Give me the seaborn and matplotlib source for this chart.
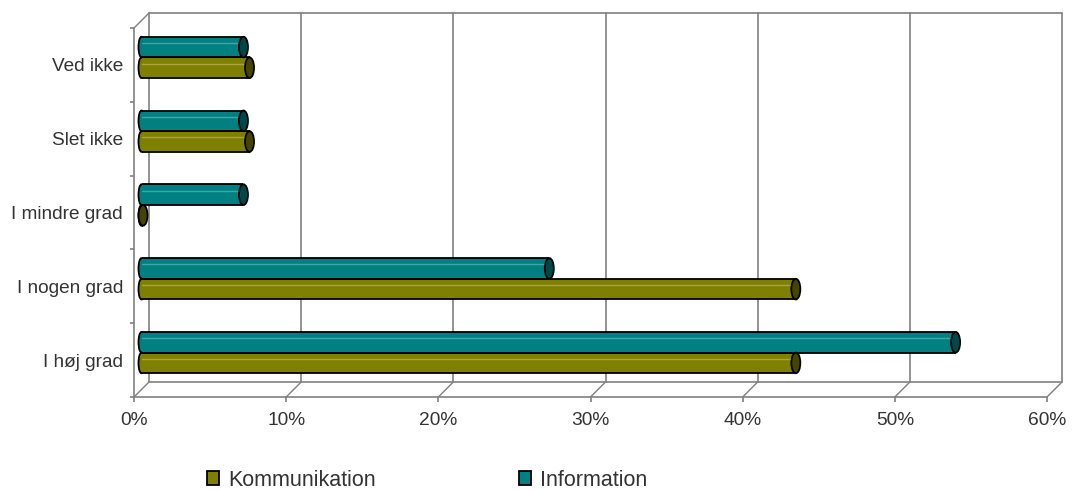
import numpy as np
import pandas as pd
import matplotlib
matplotlib.use("Agg")
import matplotlib.pyplot as plt
import matplotlib.transforms as mtransforms
from matplotlib.patches import Ellipse, Patch
import seaborn as sns

categories = ["Ved ikke", "Slet ikke", "I mindre grad", "I nogen grad", "I høj grad"]
kommunikation = [7.1, 7.1, 0.1, 43.0, 43.0]
information = [6.7, 6.7, 6.7, 26.8, 53.5]
series_names = ["Kommunikation", "Information"]
x_ticks = [0, 10, 20, 30, 40, 50, 60]
x_tick_labels = ["0%", "10%", "20%", "30%", "40%", "50%", "60%"]

colors = {"Kommunikation": "#808000", "Information": "#008080"}
caps = {"Kommunikation": "#454500", "Information": "#004848"}
highlight = {"Kommunikation": "#a5a545", "Information": "#45a5a5"}

df = pd.DataFrame({
    "Kategori": categories * 2,
    "Serie": ["Kommunikation"] * len(categories) + ["Information"] * len(categories),
    "Værdi": kommunikation + information,
})

sns.set_theme(style="white")
plt.rcParams["font.family"] = ["Liberation Sans", "DejaVu Sans"]

W, H, DPI = 1072, 490, 100
fig = plt.figure(figsize=(W / DPI, H / DPI), dpi=DPI)
# front plane of the pseudo-3D box
left, right, top, bottom = 134, 1047, 28, 397
ax = fig.add_axes([left / W, 1 - bottom / H, (right - left) / W, (bottom - top) / H])

hue_order = ["Information", "Kommunikation"]
sns.barplot(data=df, y="Kategori", x="Værdi", hue="Serie", order=categories,
            hue_order=hue_order, palette=colors, orient="h", width=0.56,
            saturation=1, linewidth=0, ax=ax, legend=False, zorder=3)

ax.set_xlim(0, 60)
ax.set_ylim(len(categories) - 0.5, -0.5)

depth = 15  # px
off_back = mtransforms.ScaledTranslation(depth / DPI, depth / DPI, fig.dpi_scale_trans)
off_mid = mtransforms.ScaledTranslation(depth / 2 / DPI, depth / 2 / DPI, fig.dpi_scale_trans)
grey = "#808080"

# back wall gridlines, frame, floor
tb = ax.transData + off_back
y0, y1 = len(categories) - 0.5, -0.5
for v in x_ticks:
    ax.plot([v, v], [y0, y1], color=grey, lw=1.2, transform=tb, clip_on=False, zorder=1)
ax.plot([0, 60], [y1, y1], color=grey, lw=1.2, transform=tb, clip_on=False, zorder=1)
ax.plot([0, 60], [y0, y0], color=grey, lw=1.2, transform=tb, clip_on=False, zorder=1)
px_x = 60 / (right - left)
px_y = len(categories) / (bottom - top)
for v in x_ticks:
    ax.plot([v, v + depth * px_x], [y0, y0 - depth * px_y], color=grey, lw=1,
            clip_on=False, zorder=1)
ax.plot([0, depth * px_x], [y1, y1 - depth * px_y], color=grey, lw=1, clip_on=False, zorder=1)

# shift bars to mid depth and build cylinder look
tm = ax.transData + off_mid
bars = list(ax.patches)
cap_w = 9 * px_x
left_w = 6 * px_x
k_rgb = matplotlib.colors.to_rgb(colors["Kommunikation"])
for p in bars:
    p.set_transform(tm)
    name = "Kommunikation" if np.allclose(p.get_facecolor()[:3], k_rgb, atol=0.02) else "Information"
    x0 = p.get_x()
    x_end = x0 + p.get_width()
    yb, hgt = p.get_y(), p.get_height()
    yc = yb + hgt / 2
    # rounded left end (half hidden behind the bar body)
    ax.add_patch(Ellipse((x0, yc), left_w, hgt, facecolor=colors[name],
                         edgecolor="black", lw=1.3, transform=tm, zorder=2.9, clip_on=False))
    # outline of body
    ax.plot([x0, x_end], [yb, yb], color="black", lw=1.3, transform=tm, zorder=3.3,
            clip_on=False, solid_capstyle="butt")
    ax.plot([x0, x_end], [yb + hgt, yb + hgt], color="black", lw=1.3, transform=tm,
            zorder=3.3, clip_on=False, solid_capstyle="butt")
    if p.get_width() > 0.8:
        ax.plot([x0, x_end], [yc - hgt * 0.2, yc - hgt * 0.2], color=highlight[name],
                lw=1, transform=tm, zorder=3.2, clip_on=False)
    ax.add_patch(Ellipse((x_end, yc), cap_w, hgt, facecolor=caps[name],
                         edgecolor="black", lw=1.3, transform=tm, zorder=4, clip_on=False))

# axes styling
for s in ["top", "right"]:
    ax.spines[s].set_visible(False)
for s in ["left", "bottom"]:
    ax.spines[s].set_color(grey)
    ax.spines[s].set_linewidth(1.2)
    ax.spines[s].set_zorder(1)
ax.set_xticks(x_ticks)
ax.set_xticklabels(x_tick_labels, fontsize=13.8, color="#333333")
ax.set_yticks(np.arange(len(categories) + 1) - 0.5, minor=False)
ax.set_yticklabels([])
ax.set_yticks(np.arange(len(categories)), minor=True)
ax.set_yticklabels(categories, minor=True, fontsize=13.7, color="#333333")
ax.tick_params(axis="y", which="minor", length=0, pad=8)
ax.tick_params(axis="y", which="major", length=3, width=1.2, color=grey, direction="out", left=True)
ax.tick_params(axis="x", length=3.6, width=1.2, color=grey, direction="out", bottom=True, pad=7)
ax.set_xlabel("")
ax.set_ylabel("")
ax.grid(False)

# legend: two entries placed where the reference has them
legend_x = [207, 519]
for n, lx in zip(series_names, legend_x):
    h = Patch(facecolor=colors[n], edgecolor="black", lw=1.3)
    leg = fig.legend([h], [n], loc="center left", bbox_to_anchor=(lx / W, 1 - 480 / H),
                     frameon=False, fontsize=15.5, handlelength=0.58, handleheight=0.58,
                     handletextpad=0.4, borderaxespad=0, borderpad=0, labelcolor="#333333")

fig.savefig("out.png", dpi=DPI)
